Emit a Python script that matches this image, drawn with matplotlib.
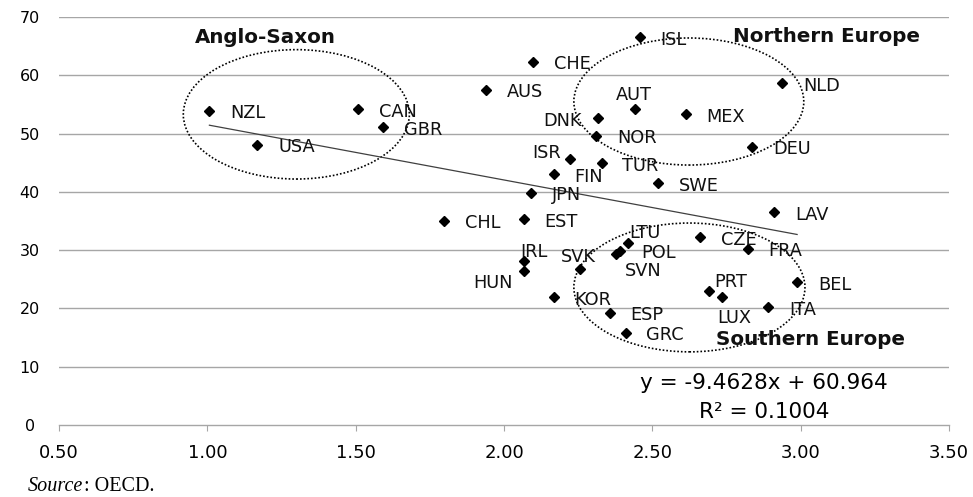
import matplotlib.pyplot as plt
from matplotlib.patches import Ellipse

# data
countries = ['NZL', 'USA', 'CAN', 'GBR', 'CHL', 'AUS', 'CHE', 'ISL', 'AUT', 'DNK',
             'MEX', 'NOR', 'NLD', 'DEU', 'ISR', 'TUR', 'FIN', 'SWE', 'JPN', 'EST',
             'LAV', 'LTU', 'POL', 'SVN', 'CZE', 'FRA', 'IRL', 'HUN', 'SVK', 'KOR',
             'ESP', 'GRC', 'PRT', 'LUX', 'BEL', 'ITA']
x_vals = [1.007, 1.168, 1.508, 1.593, 1.799, 1.939, 2.099, 2.458, 2.441, 2.318,
          2.613, 2.310, 2.938, 2.837, 2.222, 2.329, 2.168, 2.518, 2.091, 2.067,
          2.910, 2.419, 2.392, 2.378, 2.660, 2.821, 2.067, 2.067, 2.257, 2.167,
          2.357, 2.410, 2.691, 2.736, 2.988, 2.891]
y_vals = [53.9, 48.1, 54.15, 51.1, 35.0, 57.5, 62.3, 66.5, 54.2, 52.7,
          53.3, 49.6, 58.6, 47.7, 45.6, 44.9, 43.0, 41.5, 39.8, 35.3,
          36.5, 31.2, 29.9, 29.4, 32.2, 30.2, 28.2, 26.4, 26.8, 21.9,
          19.3, 15.8, 23.0, 21.9, 24.5, 20.2]

slope = -9.4628
intercept = 60.964
r2 = 0.1004

x_ticks = [0.5, 1.0, 1.5, 2.0, 2.5, 3.0, 3.5]
y_ticks = [0, 10, 20, 30, 40, 50, 60, 70]

groups = ['Anglo-Saxon', 'Northern Europe', 'Southern Europe']

# label placement (offset points, cap centre), default is right of the marker
default_off = (15, -0.7, 'left')
label_off = {
    'AUT': (-0.7, 11.3, 'center'),
    'DNK': (-12, -1, 'right'),
    'ISR': (-6.5, 5.8, 'right'),
    'LTU': (12, 8.2, 'center'),
    'SVN': (19.3, -11.1, 'center'),
    'IRL': (7.4, 7, 'center'),
    'HUN': (-8.1, -7.7, 'right'),
    'SVK': (-1.1, 9.4, 'center'),
    'PRT': (15.7, 7.7, 'center'),
    'LUX': (8.8, -14, 'center'),
}
lab_size = 12.8
half_cap = 0.729 * lab_size / 2

fig = plt.figure(figsize=(9.73, 4.97), dpi=100)
ax = fig.add_axes([59/973, 1-425/497, 890/973, 408/497])

ax.set_xlim(0.5, 3.5)
ax.set_ylim(0, 70)

# grid + axis look
for v in y_ticks[1:]:
    ax.axhline(v, color='#a6a6a6', lw=1.0, zorder=0)
for s in ['top', 'right', 'left']:
    ax.spines[s].set_visible(False)
ax.spines['bottom'].set_color('#a6a6a6')
ax.spines['bottom'].set_linewidth(1.0)

ax.set_xticks(x_ticks)
ax.set_xticklabels(['%.2f' % t for t in x_ticks], fontsize=13, family='DejaVu Sans')
ax.set_yticks(y_ticks)
ax.set_yticklabels([str(t) for t in y_ticks], fontsize=11.5, family='DejaVu Sans', ha='center')
ax.tick_params(axis='x', length=4, color='#a6a6a6', pad=10)
ax.tick_params(axis='y', length=0, pad=21)

# trend line
x0, x1 = min(x_vals), max(x_vals)
ax.plot([x0, x1], [slope*x0 + intercept, slope*x1 + intercept], color='#404040', lw=0.9, zorder=2)

ax.plot(x_vals, y_vals, linestyle='none', marker='D', ms=5.2, color='black', zorder=3)

for c, xv, yv in zip(countries, x_vals, y_vals):
    dx, dy, ha = label_off.get(c, default_off)
    ax.annotate(c, (xv, yv), xytext=(dx, dy - half_cap), textcoords='offset points',
                ha=ha, va='baseline', fontsize=lab_size, family='DejaVu Sans',
                color='#111111', annotation_clip=False)

# dotted group ellipses
ellipses = [((1.300, 53.3), 0.762, 22.2), ((2.623, 55.5), 0.775, 21.8), ((2.625, 23.6), 0.779, 22.1)]
for (cx, cy), w, h in ellipses:
    ax.add_patch(Ellipse((cx, cy), w, h, fill=False, ec='black', lw=1.2,
                         linestyle=(0, (1, 1.2)), zorder=1))

group_pos = [(1.194, 66.55), (3.087, 66.6), (3.034, 14.75)]
for g, (gx, gy) in zip(groups, group_pos):
    ax.text(gx, gy, g, ha='center', va='center', fontsize=14.3, fontweight='bold',
            family='DejaVu Sans', color='#111111', clip_on=False)

ax.text(2.876, 7.2, 'y = %.4fx + %.3f' % (slope, intercept), ha='center', va='center',
        fontsize=15.5, family='DejaVu Sans')
ax.text(2.878, 2.23, 'R\u00b2 = %.4f' % r2, ha='center', va='center',
        fontsize=15.5, family='DejaVu Sans')

# source note
fig.text(28/973, 1-491/497, 'Source', fontsize=14.5, style='italic', family='Liberation Serif')
fig.text(84/973, 1-491/497, ': OECD.', fontsize=14.5, family='Liberation Serif')

plt.savefig('out.png', dpi=100)
